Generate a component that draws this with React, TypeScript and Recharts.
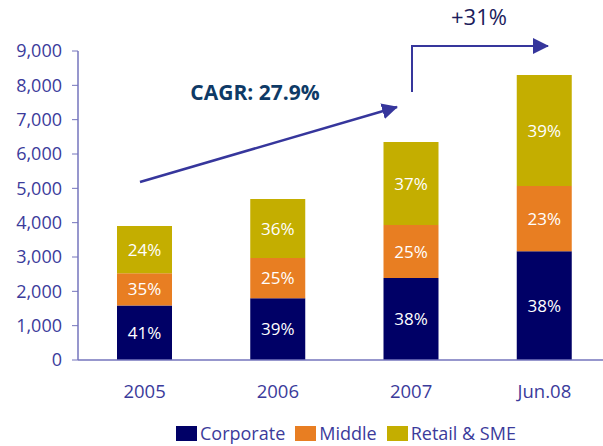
import { BarChart, Bar, XAxis, YAxis, LabelList } from 'recharts';

const periods = ['2005', '2006', '2007', 'Jun.08'];
const corporate = [1590, 1800, 2390, 3170];
const middle = [940, 1170, 1540, 1900];
const retail = [1370, 1720, 2420, 3230];
const corporateShare = ['41%', '39%', '38%', '38%'];
const middleShare = ['35%', '25%', '25%', '23%'];
const retailShare = ['24%', '36%', '37%', '39%'];
const yTicks = [0, 1000, 2000, 3000, 4000, 5000, 6000, 7000, 8000, 9000];

const data = periods.map((p, i) => ({
    period: p,
    corporate: corporate[i],
    middle: middle[i],
    retail: retail[i],
    corporateLbl: corporateShare[i],
    middleLbl: middleShare[i],
    retailLbl: retailShare[i],
}));

const FONT = '"Open Sans", "Noto Sans", sans-serif';
const AXIS_TEXT = '#3b3b9b';
const AXIS_LINE = '#7474bc';
const ARROW = '#36369c';

const legendItems = [
    { name: 'Corporate', color: '#000066' },
    { name: 'Middle', color: '#e87e22' },
    { name: 'Retail & SME', color: '#c4ae00' },
];

export default function App() {
    return (
        <div style={{ position: 'absolute', left: 0, top: 0, width: 603, height: 446, overflow: 'hidden', background: '#fff', fontFamily: FONT }}>
            <BarChart
                width={611}
                height={446}
                data={data}
                margin={{ top: 51, right: 0, left: 0, bottom: 56 }}
                barSize={55}
            >
                <XAxis
                    dataKey="period"
                    height={30}
                    tickLine={false}
                    axisLine={{ stroke: AXIS_LINE, strokeWidth: 1.5 }}
                    tick={{ fill: AXIS_TEXT, fontSize: 18.5, fontFamily: FONT, fontWeight: 500 }}
                    tickMargin={19}
                />
                <YAxis
                    width={78}
                    domain={[0, 9000]}
                    ticks={yTicks}
                    interval={0}
                    tickSize={6}
                    tickMargin={10}
                    tickLine={{ stroke: AXIS_LINE }}
                    axisLine={{ stroke: AXIS_LINE, strokeWidth: 1.5 }}
                    tick={{ fill: AXIS_TEXT, fontSize: 18, fontFamily: FONT, fontWeight: 500 }}
                    tickFormatter={(v) => v.toLocaleString('en-US')}
                />
                <Bar dataKey="corporate" stackId="a" fill="#000066" isAnimationActive={false}>
                    <LabelList dataKey="corporateLbl" position="center" fill="#ffffff" fontSize={17} fontFamily={FONT} />
                </Bar>
                <Bar dataKey="middle" stackId="a" fill="#e87e22" isAnimationActive={false}>
                    <LabelList dataKey="middleLbl" position="center" fill="#ffffff" fontSize={17} fontFamily={FONT} />
                </Bar>
                <Bar dataKey="retail" stackId="a" fill="#c4ae00" isAnimationActive={false}>
                    <LabelList dataKey="retailLbl" position="center" fill="#ffffff" fontSize={17} fontFamily={FONT} />
                </Bar>
            </BarChart>

            {/* growth annotations */}
            <svg width={603} height={446} style={{ position: 'absolute', left: 0, top: 0, pointerEvents: 'none' }}>
                <defs>
                    <marker id="headBig" markerWidth="16" markerHeight="16" refX="15" refY="8" orient="auto" markerUnits="userSpaceOnUse">
                        <path d="M0,0 L16,8 L0,16 z" fill={ARROW} />
                    </marker>
                </defs>
                <line x1={140} y1={182} x2={397} y2={107} stroke={ARROW} strokeWidth={2.5} markerEnd="url(#headBig)" />
                <text x={255} y={100} textAnchor="middle" fill="#0e3a66" fontSize={21} fontWeight="bold" fontFamily={FONT}>CAGR: 27.9%</text>
                <polyline points="412,92 412,46 548,46" fill="none" stroke={ARROW} strokeWidth={2} markerEnd="url(#headBig)" />
                <text x={479} y={25} textAnchor="middle" fill="#1c1c5c" fontSize={22} fontFamily={FONT}>+31%</text>
            </svg>

            <div style={{ position: 'absolute', left: 176, top: 421, display: 'flex', alignItems: 'center', fontSize: 18, color: AXIS_TEXT }}>
                {legendItems.map((it) => (
                    <span key={it.name} style={{ display: 'flex', alignItems: 'center', marginRight: 10 }}>
                        <span style={{ width: 21, height: 15, background: it.color, marginRight: 3, display: 'inline-block' }} />
                        {it.name}
                    </span>
                ))}
            </div>
        </div>
    );
}
